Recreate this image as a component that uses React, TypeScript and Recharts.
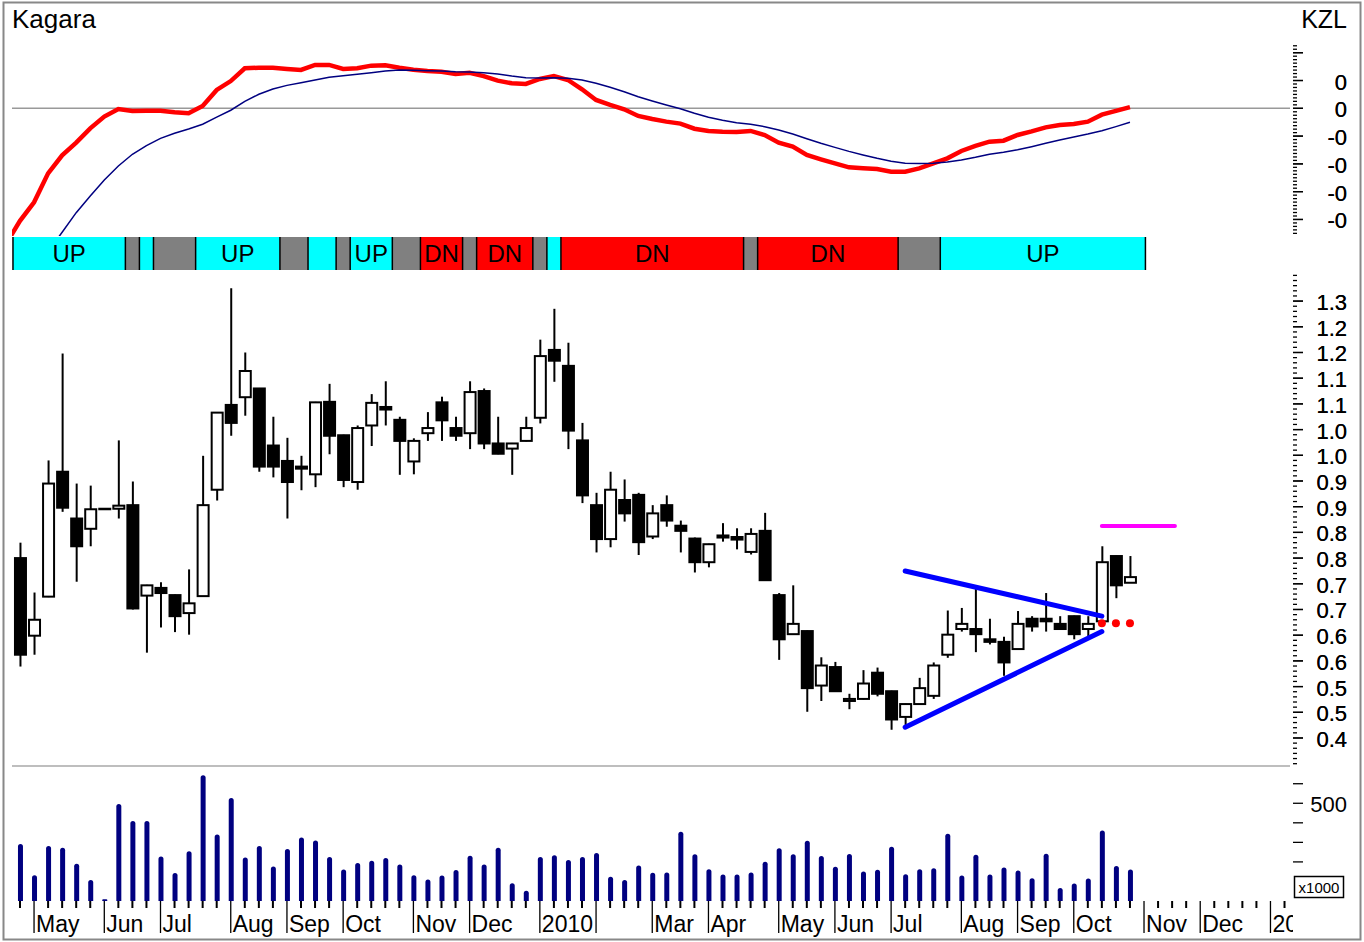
import React from 'react';
import {
  ComposedChart,
  Line,
  Bar,
  XAxis,
  YAxis,
  ReferenceLine,
  ReferenceArea,
} from 'recharts';

const W = 1364;
const H = 942;
const X_MIN = -0.569;
const X_MAX = 90.39;
const FONT = '"Liberation Sans", Arial, sans-serif';

// MACD (red) from week -1, signal (navy) from week 2
const macdLine = [
  -0.0976, -0.081, -0.0676, -0.0468, -0.0338, -0.0247, -0.0144, -0.006, -0.0005, -0.002,
  -0.0017, -0.0017, -0.0029, -0.0036, 0.0017, 0.0132, 0.0196, 0.0288, 0.0292, 0.0292,
  0.0283, 0.0276, 0.0312, 0.0312, 0.0283, 0.0288, 0.0307, 0.031, 0.0292, 0.0278,
  0.0268, 0.0263, 0.0247, 0.0256, 0.0232, 0.0199, 0.018, 0.0175, 0.0211, 0.0232,
  0.0204, 0.0137, 0.006, 0.0024, -0.0007, -0.0055, -0.0077, -0.0096, -0.011, -0.0147,
  -0.0163, -0.0168, -0.017, -0.0163, -0.0192, -0.0247, -0.0276, -0.0336, -0.0367, -0.0396,
  -0.0425, -0.0432, -0.0437, -0.0456, -0.0456, -0.0432, -0.0396, -0.036, -0.0307, -0.0271,
  -0.024, -0.0233, -0.0192, -0.0166, -0.0137, -0.012, -0.0113, -0.0096, -0.0046, -0.0019,
  0.0009,
];
const signalLine = [
  -0.103, -0.0892, -0.0751, -0.0631, -0.0516, -0.0415, -0.0331, -0.0269, -0.0216, -0.018,
  -0.0149, -0.0115, -0.0063, -0.0014, 0.005, 0.0101, 0.0139, 0.0165, 0.0184, 0.0204,
  0.0223, 0.0235, 0.0245, 0.0256, 0.0268, 0.0276, 0.0273, 0.0271, 0.0268, 0.0263,
  0.0261, 0.0256, 0.0247, 0.0232, 0.022, 0.0218, 0.022, 0.0216, 0.0204, 0.018,
  0.0151, 0.0119, 0.0083, 0.0053, 0.0024, -0.0003, -0.0036, -0.0065, -0.0086, -0.0104,
  -0.0115, -0.0132, -0.0156, -0.0185, -0.0219, -0.0252, -0.0281, -0.031, -0.0336, -0.036,
  -0.0381, -0.0396, -0.0398, -0.0396, -0.0386, -0.0372, -0.0353, -0.0331, -0.0317, -0.0298,
  -0.0276, -0.0252, -0.0228, -0.0206, -0.0185, -0.0161, -0.0132, -0.0101,
];

// weekly candles, week 0 .. 79
const opens = [
  0.8, 0.649, 0.725, 0.968, 0.877, 0.857, 0.895, 0.896, 0.903, 0.727,
  0.742, 0.728, 0.693, 0.726, 0.933, 1.098, 1.113, 1.13, 1.019, 0.989,
  0.978, 0.963, 1.104, 1.039, 0.948, 1.058, 1.094, 1.069, 0.988, 1.043,
  1.103, 1.053, 1.043, 1.125, 1.023, 1.013, 1.028, 1.073, 1.205, 1.174,
  1.029, 0.903, 0.837, 0.913, 0.923, 0.842, 0.903, 0.863, 0.838, 0.792,
  0.844, 0.841, 0.812, 0.853, 0.728, 0.652, 0.658, 0.552, 0.588, 0.522,
  0.526, 0.577, 0.541, 0.491, 0.516, 0.532, 0.612, 0.662, 0.662, 0.642,
  0.637, 0.623, 0.682, 0.682, 0.672, 0.687, 0.662, 0.677, 0.804, 0.752,
];
const highs = [
  0.83, 0.733, 0.99, 1.198, 0.945, 0.941, 0.897, 1.029, 0.949, 0.748,
  0.753, 0.729, 0.778, 0.999, 1.084, 1.325, 1.2, 1.131, 1.075, 1.034,
  0.999, 1.104, 1.139, 1.04, 1.058, 1.119, 1.144, 1.075, 1.033, 1.084,
  1.114, 1.075, 1.144, 1.13, 1.075, 1.024, 1.075, 1.225, 1.285, 1.219,
  1.063, 0.927, 0.968, 0.953, 0.927, 0.903, 0.922, 0.873, 0.84, 0.828,
  0.868, 0.858, 0.858, 0.888, 0.732, 0.747, 0.659, 0.607, 0.598, 0.536,
  0.582, 0.587, 0.542, 0.517, 0.567, 0.597, 0.698, 0.703, 0.741, 0.682,
  0.647, 0.697, 0.687, 0.732, 0.687, 0.688, 0.687, 0.823, 0.805, 0.804,
];
const lows = [
  0.589, 0.612, 0.724, 0.89, 0.754, 0.823, 0.895, 0.877, 0.7, 0.616,
  0.665, 0.656, 0.651, 0.725, 0.912, 1.038, 1.077, 0.968, 0.957, 0.877,
  0.932, 0.938, 1.002, 0.938, 0.933, 1.018, 1.058, 0.962, 0.963, 1.028,
  1.028, 1.028, 1.012, 1.012, 1.002, 0.962, 1.027, 1.062, 1.143, 1.012,
  0.907, 0.811, 0.821, 0.871, 0.806, 0.837, 0.861, 0.811, 0.772, 0.782,
  0.832, 0.817, 0.807, 0.757, 0.602, 0.651, 0.501, 0.522, 0.541, 0.506,
  0.525, 0.531, 0.466, 0.471, 0.515, 0.526, 0.606, 0.657, 0.617, 0.632,
  0.571, 0.622, 0.657, 0.657, 0.661, 0.642, 0.647, 0.676, 0.722, 0.752,
];
const closes = [
  0.612, 0.68, 0.945, 0.898, 0.823, 0.895, 0.896, 0.902, 0.702, 0.747,
  0.732, 0.687, 0.712, 0.903, 1.083, 1.063, 1.164, 0.978, 0.978, 0.948,
  0.974, 1.103, 1.038, 0.952, 1.053, 1.102, 1.089, 1.028, 1.028, 1.053,
  1.068, 1.038, 1.123, 1.023, 1.003, 1.023, 1.053, 1.193, 1.184, 1.048,
  0.922, 0.837, 0.933, 0.887, 0.831, 0.887, 0.873, 0.853, 0.792, 0.827,
  0.84, 0.836, 0.847, 0.757, 0.642, 0.672, 0.547, 0.591, 0.541, 0.526,
  0.556, 0.536, 0.486, 0.516, 0.547, 0.591, 0.651, 0.672, 0.652, 0.637,
  0.597, 0.672, 0.667, 0.677, 0.662, 0.652, 0.672, 0.792, 0.747, 0.763,
];
// volume in thousands
const volumes = [
  292, 132, 282, 272, 191, 107, 9, 496, 409, 409,
  228, 143, 254, 644, 340, 527, 223, 282, 177, 266,
  325, 309, 225, 161, 194, 206, 220, 187, 132, 110,
  130, 158, 232, 187, 272, 91, 52, 225, 234, 210,
  225, 246, 124, 108, 182, 144, 146, 354, 239, 163,
  136, 136, 146, 201, 270, 239, 308, 230, 175, 241,
  151, 160, 277, 137, 163, 168, 344, 131, 237, 136,
  172, 156, 117, 242, 67, 89, 115, 361, 179, 161,
];

// triangle + breakout annotations
const upperTrend = [{ x: 63, y: 0.775 }, { x: 77, y: 0.687 }];
const lowerTrend = [{ x: 63, y: 0.471 }, { x: 77, y: 0.657 }];
const targetLine = [{ x: 77, y: 0.8625 }, { x: 82.2, y: 0.8625 }];
const stopWeeks = [77, 78, 79];
const stopLevel = 0.673;

// trend band
const bandStart = [-0.5, 7.5, 8.5, 9.5, 12.5, 18.5, 20.5, 22.5, 23.5, 26.5, 28.5, 31.5, 32.5, 36.5, 37.5, 38.5, 51.5, 52.5, 62.5, 65.5];
const bandEnd = [7.5, 8.5, 9.5, 12.5, 18.5, 20.5, 22.5, 23.5, 26.5, 28.5, 31.5, 32.5, 36.5, 37.5, 38.5, 51.5, 52.5, 62.5, 65.5, 80.1];
const bandState = ['up', 'flat', 'up', 'flat', 'up', 'flat', 'up', 'flat', 'up', 'flat', 'dn', 'flat', 'dn', 'flat', 'up', 'dn', 'flat', 'dn', 'flat', 'up'];
const bandLabel = ['UP', '', '', '', 'UP', '', '', '', 'UP', '', 'DN', '', 'DN', '', '', 'DN', '', 'DN', '', 'UP'];
const bandColor: Record<string, string> = { up: '#00ffff', dn: '#ff0000', flat: '#808080' };

// axes
const monthWeeks = [1, 6, 10, 15, 19, 23, 28, 32, 37, 41, 45, 49, 54, 58, 62, 67, 71, 75, 80, 84, 89];
const monthLabels = ['May', 'Jun', 'Jul', 'Aug', 'Sep', 'Oct', 'Nov', 'Dec', '2010', '', 'Mar', 'Apr', 'May', 'Jun', 'Jul', 'Aug', 'Sep', 'Oct', 'Nov', 'Dec', '2011'];
const macdTicks = [0.04, 0.02, 0, -0.02, -0.04, -0.06, -0.08];
const macdTickLabels = ['', '0', '0', '-0', '-0', '-0', '-0'];
const priceTicks = [1.3, 1.25, 1.2, 1.15, 1.1, 1.05, 1.0, 0.95, 0.9, 0.85, 0.8, 0.75, 0.7, 0.65, 0.6, 0.55, 0.5, 0.45];
const priceTickLabels = ['1.3', '1.2', '1.2', '1.1', '1.1', '1.0', '1.0', '0.9', '0.9', '0.8', '0.8', '0.7', '0.7', '0.6', '0.6', '0.5', '0.5', '0.4'];
const volTicks = [200, 300, 400, 500, 600];
const volTickLabels = ['', '', '', '500', ''];

const MACD_MIN = -0.0919;
const MACD_MAX = 0.047;
const P_MIN = 0.3955;
const P_MAX = 1.3566;
const V_MAX = 690.7;

const macdData = macdLine.map((v, k) => ({
  week: k - 1,
  macd: v,
  signal: k >= 3 ? signalLine[k - 3] : null,
}));

const priceData = opens.map((o, i) => ({
  week: i,
  o,
  h: highs[i],
  l: lows[i],
  c: closes[i],
  range: [lows[i], highs[i]],
  vol: volumes[i],
  stop: stopWeeks.includes(i) ? stopLevel : null,
}));

const bandData = bandStart.map((s) => ({ week: s, level: 0.5 }));
const allWeeks = Array.from({ length: 91 }, (_, i) => i);

const key = (v: number) => Number(v).toFixed(4);

const minorTicks = (from: number, to: number, step: number, majors: number[]) => {
  const out: number[] = [...majors];
  for (let v = from; v <= to + 1e-9; v += step) out.push(Number(v.toFixed(4)));
  return out;
};

const makeYTick = (majors: number[], labels: string[]) => {
  const map: Record<string, string> = {};
  majors.forEach((m, i) => (map[key(m)] = labels[i]));
  return (props: any) => {
    const { y, payload } = props;
    const lab = map[key(payload.value)];
    const major = lab !== undefined;
    return (
      <g>
        <line x1={1293} x2={major ? 1303 : 1297} y1={y} y2={y} stroke="#000" strokeWidth={1.3} />
        {lab ? (
          <text x={1347} y={y + 9} textAnchor="end" fontSize={22} fill="#000" fontFamily={FONT}>
            {lab}
          </text>
        ) : null}
      </g>
    );
  };
};

const MacdTick = makeYTick(macdTicks, macdTickLabels);
const PriceTick = makeYTick(priceTicks, priceTickLabels);
const VolTick = makeYTick(volTicks, volTickLabels);

const WeekTick = (props: any) => {
  const { x, payload } = props;
  const idx = monthWeeks.indexOf(payload.value);
  const isMonth = idx >= 0;
  return (
    <g>
      <line x1={x} x2={x} y1={901} y2={isMonth ? 933 : 908} stroke="#000" strokeWidth={isMonth ? 1.3 : 2} />
      {isMonth && monthLabels[idx] ? (
        <text x={x + 2} y={932} fontSize={23} fill="#000" fontFamily={FONT} clipPath="url(#xclip)">
          {monthLabels[idx]}
        </text>
      ) : null}
    </g>
  );
};

const Candle = (props: any) => {
  const { x, y, width, height, payload } = props;
  if (payload == null || payload.h == null) return null;
  const cx = x + width / 2;
  const span = payload.h - payload.l || 0.001;
  const toY = (v: number) => y + ((payload.h - v) / span) * height;
  const yO = toY(payload.o);
  const yC = toY(payload.c);
  const top = Math.min(yO, yC);
  const bh = Math.max(Math.abs(yO - yC), 0.5);
  const up = payload.c >= payload.o;
  return (
    <g>
      <line x1={cx} x2={cx} y1={y} y2={y + height} stroke="#000" strokeWidth={2} />
      <rect x={x + 1} y={top} width={width - 2} height={bh} fill={up ? '#fff' : '#000'} stroke="#000" strokeWidth={2} />
    </g>
  );
};

const layer: React.CSSProperties = { position: 'absolute', left: 0, top: 0 };

export default function App() {
  return (
    <div style={{ position: 'absolute', left: 0, top: 0, width: W, height: H, background: '#fff', fontFamily: FONT }}>
      {/* MACD panel */}
      <div style={layer}>
        <ComposedChart width={W} height={H} data={macdData} margin={{ top: 43, right: 0, bottom: H - 236, left: 12 }}>
          <XAxis type="number" dataKey="week" domain={[X_MIN, X_MAX]} allowDataOverflow hide />
          <YAxis
            orientation="right"
            width={74}
            type="number"
            domain={[MACD_MIN, MACD_MAX]}
            allowDataOverflow
            ticks={minorTicks(-0.09, 0.045, 0.0025, macdTicks)}
            interval={0}
            axisLine={false}
            tickLine={false}
            tick={MacdTick}
          />
          <ReferenceLine y={0} stroke="#999" strokeWidth={1.5} segment={[{ x: X_MIN, y: 0 }, { x: X_MAX + 0.2, y: 0 }]} ifOverflow="visible" />
          <Line type="linear" dataKey="macd" stroke="#ff0000" strokeWidth={4.5} dot={false} isAnimationActive={false} />
          <Line type="linear" dataKey="signal" stroke="#000080" strokeWidth={1.5} dot={false} isAnimationActive={false} />
        </ComposedChart>
      </div>

      {/* trend band */}
      <div style={layer}>
        <ComposedChart width={W} height={H} data={bandData} margin={{ top: 237, right: 0, bottom: H - 270, left: 12 }}>
          <XAxis type="number" dataKey="week" domain={[X_MIN, X_MAX]} allowDataOverflow hide />
          <YAxis orientation="right" width={74} type="number" domain={[0, 1]} tick={false} axisLine={false} tickLine={false} />
          <Line dataKey="level" stroke="none" dot={false} isAnimationActive={false} />
          {bandStart.map((s, k) => (
            <ReferenceArea
              key={'a' + k}
              x1={s}
              x2={bandEnd[k]}
              y1={0}
              y2={1}
              fill={bandColor[bandState[k]]}
              fillOpacity={1}
              stroke="none"
              ifOverflow="visible"
              label={bandLabel[k] ? { value: bandLabel[k], position: 'center', fontSize: 24, fill: '#000', fontFamily: FONT } : undefined}
            />
          ))}
          {[...bandStart, bandEnd[bandEnd.length - 1]].map((b, k) => (
            <ReferenceLine key={'b' + k} x={b} stroke="#000" strokeWidth={1.5} ifOverflow="visible" />
          ))}
        </ComposedChart>
      </div>

      {/* price panel */}
      <div style={layer}>
        <ComposedChart width={W} height={H} data={priceData} margin={{ top: 272, right: 0, bottom: H - 766, left: 12 }}>
          <XAxis type="number" dataKey="week" domain={[X_MIN, X_MAX]} allowDataOverflow hide />
          <YAxis
            orientation="right"
            width={74}
            type="number"
            domain={[P_MIN, P_MAX]}
            allowDataOverflow
            ticks={minorTicks(0.4, 1.35, 0.01, priceTicks)}
            interval={0}
            axisLine={false}
            tickLine={false}
            tick={PriceTick}
          />
          <Bar dataKey="range" barSize={13} shape={<Candle />} isAnimationActive={false} />
          <ReferenceLine segment={upperTrend} stroke="#0000ff" strokeWidth={5} strokeLinecap="round" />
          <ReferenceLine segment={lowerTrend} stroke="#0000ff" strokeWidth={5} strokeLinecap="round" />
          <ReferenceLine segment={targetLine} stroke="#ff00ff" strokeWidth={4} strokeLinecap="round" />
          <Line
            dataKey="stop"
            stroke="none"
            dot={{ r: 4, fill: '#ff0000', stroke: 'none' }}
            isAnimationActive={false}
          />
        </ComposedChart>
      </div>

      {/* volume panel */}
      <div style={layer}>
        <ComposedChart width={W} height={H} data={priceData} margin={{ top: 766, right: 0, bottom: 0, left: 12 }}>
          <XAxis
            type="number"
            dataKey="week"
            domain={[X_MIN, X_MAX]}
            allowDataOverflow
            height={41}
            ticks={allWeeks}
            interval={0}
            axisLine={false}
            tickLine={false}
            tick={WeekTick}
          />
          <YAxis
            orientation="right"
            width={74}
            type="number"
            domain={[0, V_MAX]}
            allowDataOverflow
            ticks={volTicks}
            interval={0}
            axisLine={false}
            tickLine={false}
            tick={VolTick}
          />
          <ReferenceLine y={V_MAX} stroke="#a8a8a8" strokeWidth={1.5} />
          <Bar dataKey="vol" fill="#000080" barSize={5} radius={[2.5, 2.5, 0, 0]} isAnimationActive={false} />
        </ComposedChart>
      </div>

      {/* titles, frame, clip */}
      <svg width={W} height={H} style={{ ...layer, pointerEvents: 'none' }}>
        <defs>
          <clipPath id="xclip">
            <rect x={0} y={0} width={1293} height={H} />
          </clipPath>
        </defs>
        <rect x={3.5} y={2.5} width={1357} height={937} fill="none" stroke="#888" strokeWidth={2} />
        <text x={12} y={28} fontSize={26} fill="#000" fontFamily={FONT}>Kagara</text>
        <text x={1347} y={28} fontSize={25} fill="#000" textAnchor="end" fontFamily={FONT}>KZL</text>
        <rect x={1294.5} y={876.5} width={49} height={21} fill="#fff" stroke="#000" strokeWidth={1.5} />
        <text x={1319} y={893} fontSize={15} fill="#000" textAnchor="middle" fontFamily={FONT}>x1000</text>
      </svg>
    </div>
  );
}
